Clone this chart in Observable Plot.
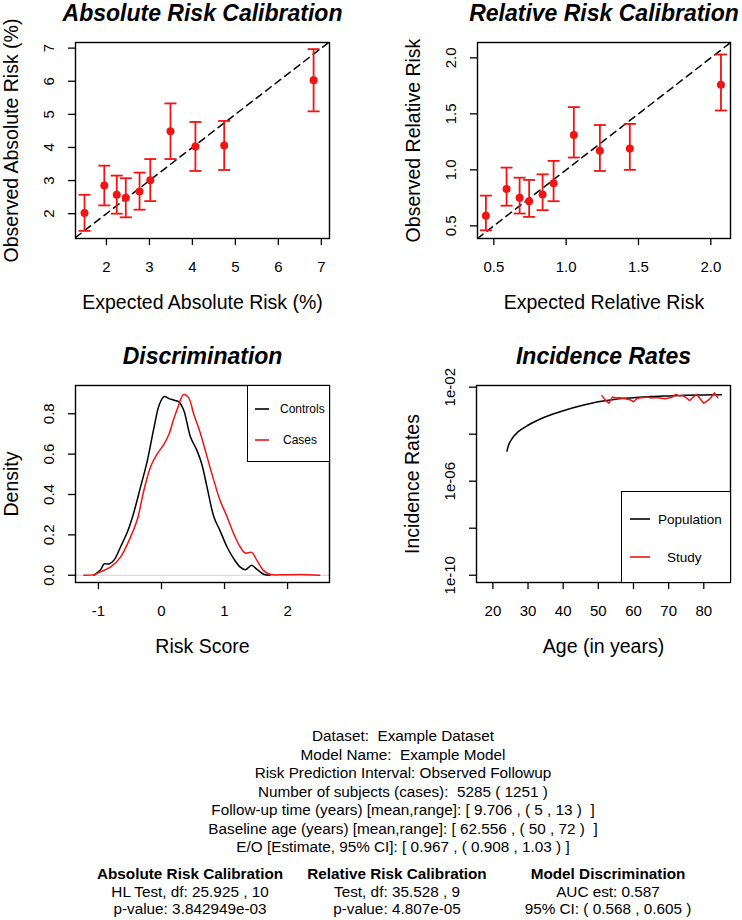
<!DOCTYPE html>
<html><head><meta charset="utf-8">
<script src="https://cdn.jsdelivr.net/npm/d3@7"></script>
<script src="https://cdn.jsdelivr.net/npm/@observablehq/plot@0.6"></script>
<style>
body{margin:0;background:#fff;}
#root{position:relative;width:742px;height:920px;background:#fff;font-family:"Liberation Sans",Arial,Helvetica,sans-serif;color:#000;overflow:hidden}
.panel{position:absolute}
.t{position:absolute;transform:translate(-50%,-50%);white-space:pre;line-height:1;font-size:15.3px}
.b{font-weight:bold}
.leg{position:absolute;background:#fff;border:1.5px solid #000;box-sizing:border-box}
</style></head><body><div id="root"></div>
<script>
const RED = "#f01414";
const FONT = "'Liberation Sans', Arial, Helvetica, sans-serif";

// ---- Absolute risk calibration ----
const absExpected = [1.49, 1.95, 2.24, 2.45, 2.77, 3.02, 3.49, 4.07, 4.74, 6.82];
const absObserved = [2.02, 2.85, 2.57, 2.48, 2.67, 3.01, 4.49, 4.03, 4.06, 6.03];
const absLower    = [1.48, 2.25, 2.00, 1.89, 2.12, 2.38, 3.65, 3.29, 3.32, 5.09];
const absUpper    = [2.57, 3.45, 3.15, 3.07, 3.24, 3.65, 5.33, 4.77, 4.80, 6.97];
const absTicks = [2, 3, 4, 5, 6, 7];
const absTickLabels = ["2", "3", "4", "5", "6", "7"];

// ---- Relative risk calibration ----
const relExpected = [0.445, 0.588, 0.678, 0.744, 0.837, 0.913, 1.053, 1.233, 1.44, 2.07];
const relObserved = [0.59, 0.83, 0.75, 0.72, 0.78, 0.88, 1.31, 1.17, 1.19, 1.76];
const relLower    = [0.46, 0.68, 0.61, 0.58, 0.64, 0.72, 1.11, 0.99, 1.00, 1.53];
const relUpper    = [0.77, 1.02, 0.93, 0.91, 0.96, 1.08, 1.56, 1.40, 1.41, 2.03];
const relTicks = [0.5, 1, 1.5, 2];
const relTickLabels = ["0.5", "1.0", "1.5", "2.0"];

// ---- Discrimination (density of risk score) ----
const controlsScore   = [-1.07, -0.96, -0.91, -0.83, -0.75, -0.65, -0.54, -0.44, -0.33, -0.23, -0.12, -0.04, 0.04, 0.12, 0.19, 0.27, 0.35, 0.46, 0.56, 0.64, 0.72, 0.83, 0.93, 1.04, 1.14, 1.25, 1.33, 1.43, 1.51, 1.62, 1.72];
const controlsDensity = [0.0, 0.03, 0.056, 0.056, 0.076, 0.14, 0.215, 0.31, 0.44, 0.56, 0.73, 0.84, 0.885, 0.875, 0.868, 0.86, 0.82, 0.685, 0.62, 0.55, 0.44, 0.29, 0.22, 0.14, 0.085, 0.04, 0.027, 0.05, 0.03, 0.005, 0.0];
const casesScore   = [-1.23, -1.07, -0.96, -0.81, -0.65, -0.49, -0.38, -0.28, -0.17, -0.07, 0.04, 0.12, 0.19, 0.27, 0.35, 0.43, 0.51, 0.62, 0.72, 0.83, 0.93, 1.04, 1.14, 1.25, 1.33, 1.43, 1.51, 1.62, 1.72, 1.93, 2.19, 2.51];
const casesDensity = [0.0, 0.003, 0.018, 0.04, 0.09, 0.19, 0.28, 0.42, 0.54, 0.60, 0.65, 0.70, 0.77, 0.84, 0.895, 0.88, 0.80, 0.70, 0.59, 0.47, 0.37, 0.29, 0.21, 0.14, 0.11, 0.113, 0.076, 0.023, 0.005, 0.002, 0.004, 0.0];
const discXTicks = [-1, 0, 1, 2];
const discXLabels = ["-1", "0", "1", "2"];
const discYTicks = [0, 0.2, 0.4, 0.6, 0.8];
const discYLabels = ["0.0", "0.2", "0.4", "0.6", "0.8"];

// ---- Incidence rates ----
const popAge  = [24, 24.5, 25, 26, 27, 28, 30, 32, 35, 40, 45, 50, 55, 60, 65, 70, 75, 80, 85];
const popRate = [1.91e-5, 3.55e-5, 5.01e-5, 8.32e-5, 1.20e-4, 1.58e-4, 2.40e-4, 3.47e-4, 5.50e-4, 1.00e-3, 1.62e-3, 2.40e-3, 3.09e-3, 3.55e-3, 3.98e-3, 4.27e-3, 4.57e-3, 4.68e-3, 4.79e-3];
const studyAge  = [51, 52, 53, 54, 55, 56, 57, 58, 59, 60, 61, 62, 63, 64, 65, 66, 67, 68, 69, 70, 71, 72, 73, 74, 75, 76, 77, 78, 79, 80, 81, 82, 83, 84];
const studyRate = [4.37e-3, 2.82e-3, 2.09e-3, 3.80e-3, 3.47e-3, 3.55e-3, 3.39e-3, 3.16e-3, 2.95e-3, 2.40e-3, 3.31e-3, 3.55e-3, 3.63e-3, 3.80e-3, 3.47e-3, 3.63e-3, 3.55e-3, 3.39e-3, 3.24e-3, 3.47e-3, 3.80e-3, 4.90e-3, 4.37e-3, 4.47e-3, 3.55e-3, 2.69e-3, 3.80e-3, 4.90e-3, 3.16e-3, 2.09e-3, 2.63e-3, 3.55e-3, 5.75e-3, 3.55e-3];
const incXTicks = [20, 30, 40, 50, 60, 70, 80];
const incXLabels = ["20", "30", "40", "50", "60", "70", "80"];
const incYTicks = [1e-2, 1e-4, 1e-6, 1e-8, 1e-10];
const incYLabels = ["1e-02", "", "1e-06", "", "1e-10"];

// ---- Summary text ----
const summaryLines = [
  "Dataset:  Example Dataset",
  "Model Name:  Example Model",
  "Risk Prediction Interval: Observed Followup",
  "Number of subjects (cases):  5285 ( 1251 )",
  "Follow-up time (years) [mean,range]: [ 9.706 , ( 5 , 13 )  ]",
  "Baseline age (years) [mean,range]: [ 62.556 , ( 50 , 72 )  ]",
  "E/O [Estimate, 95% CI]: [ 0.967 , ( 0.908 , 1.03 ) ]"
];
const columnHeaders = ["Absolute Risk Calibration", "Relative Risk Calibration", "Model Discrimination"];
const columnLine1 = ["HL Test, df: 25.925 , 10", "Test, df: 35.528 , 9", "AUC est: 0.587"];
const columnLine2 = ["p-value: 3.842949e-03", "p-value: 4.807e-05", "95% CI: ( 0.568 , 0.605 )"];

// ---- build ----
const root = document.getElementById("root");
const capSymbol = {draw(ctx, size) { const r = Math.sqrt(size / Math.PI); ctx.moveTo(-r, 0); ctx.lineTo(r, 0); }};

function panel({left, top, margins, x, y, xTicks, xLabels, yTicks, yLabels, title, xTitle, yTitle, marks}) {
  const svg = Plot.plot({
    width: 371, height: 330, ...margins,
    style: {fontFamily: FONT, fontSize: "15px", background: "transparent", overflow: "visible", color: "#000"},
    x, y,
    marks: [
      ...marks,
      Plot.frame({stroke: "#000", strokeWidth: 1.4}),
      Plot.axisX({ticks: xTicks, tickSize: 7, tickFormat: () => "", strokeWidth: 1.3, label: null}),
      Plot.text(xTicks, {x: d => d, text: (d, i) => xLabels[i], frameAnchor: "bottom", dy: 29, fontSize: 15, lineAnchor: "middle", textAnchor: "middle"}),
      Plot.axisY({ticks: yTicks, tickSize: 7, tickFormat: () => "", strokeWidth: 1.3, label: null}),
      Plot.text(yTicks, {y: d => d, text: (d, i) => yLabels[i], frameAnchor: "left", dx: -26, rotate: -90, fontSize: 15, lineAnchor: "middle", textAnchor: "middle"}),
      Plot.text([xTitle], {text: d => d, frameAnchor: "bottom", dy: 64, fontSize: 19.5, lineAnchor: "middle", textAnchor: "middle"}),
      Plot.text([yTitle], {text: d => d, frameAnchor: "left", dx: -64, rotate: -90, fontSize: 19.5, lineAnchor: "middle", textAnchor: "middle"}),
      Plot.text([title], {text: d => d, frameAnchor: "top", dy: -29, fontSize: 23, fontWeight: "bold", fontStyle: "italic", lineAnchor: "middle", textAnchor: "middle"})
    ]
  });
  svg.classList.add("panel");
  svg.style.left = left + "px";
  svg.style.top = top + "px";
  root.appendChild(svg);
}

function calibMarks(data, diag) {
  return [
    Plot.line(diag, {x: d => d, y: d => d, stroke: "#000", strokeWidth: 1.5, strokeDasharray: "7,5", clip: true}),
    Plot.ruleX(data, {x: "x", y1: "lo", y2: "hi", stroke: RED, strokeWidth: 1.8}),
    Plot.dot(data, {x: "x", y: "lo", symbol: capSymbol, r: 6, stroke: RED, strokeWidth: 1.8, fill: "none"}),
    Plot.dot(data, {x: "x", y: "hi", symbol: capSymbol, r: 6, stroke: RED, strokeWidth: 1.8, fill: "none"}),
    Plot.dot(data, {x: "x", y: "y", r: 4, fill: RED, stroke: "none"})
  ];
}

const absData = absExpected.map((x, i) => ({x, y: absObserved[i], lo: absLower[i], hi: absUpper[i]}));
const relData = relExpected.map((x, i) => ({x, y: relObserved[i], lo: relLower[i], hi: relUpper[i]}));
const absX = [1.28, 7.19], absY = [1.25, 7.17];
const relX = [0.387, 2.136], relY = [0.387, 2.137];

panel({
  left: 0, top: 0,
  margins: {marginLeft: 75, marginRight: 42, marginTop: 42, marginBottom: 92},
  x: {domain: absX}, y: {domain: absY},
  xTicks: absTicks, xLabels: absTickLabels, yTicks: absTicks, yLabels: absTickLabels,
  title: "Absolute Risk Calibration", xTitle: "Expected Absolute Risk (%)", yTitle: "Observed Absolute Risk (%)",
  marks: calibMarks(absData, absX)
});

panel({
  left: 371, top: 0,
  margins: {marginLeft: 106, marginRight: 12, marginTop: 42, marginBottom: 92},
  x: {domain: relX}, y: {domain: relY},
  xTicks: relTicks, xLabels: relTickLabels, yTicks: relTicks, yLabels: relTickLabels,
  title: "Relative Risk Calibration", xTitle: "Expected Relative Risk", yTitle: "Observed Relative Risk",
  marks: calibMarks(relData, relX)
});

const controls = controlsScore.map((x, i) => ({x, y: controlsDensity[i]}));
const cases = casesScore.map((x, i) => ({x, y: casesDensity[i]}));
panel({
  left: 0, top: 330,
  margins: {marginLeft: 75, marginRight: 42, marginTop: 55, marginBottom: 78},
  x: {domain: [-1.364, 2.665]}, y: {domain: [-0.036, 0.94]},
  xTicks: discXTicks, xLabels: discXLabels, yTicks: discYTicks, yLabels: discYLabels,
  title: "Discrimination", xTitle: "Risk Score", yTitle: "Density",
  marks: [
    Plot.ruleY([0], {stroke: "#d0d0d0", strokeWidth: 1}),
    Plot.line(controls, {x: "x", y: "y", stroke: "#000", strokeWidth: 1.5, curve: "catmull-rom"}),
    Plot.line(cases, {x: "x", y: "y", stroke: RED, strokeWidth: 1.5, curve: "catmull-rom"})
  ]
});

const pop = popAge.map((x, i) => ({x, y: popRate[i]}));
const study = studyAge.map((x, i) => ({x, y: studyRate[i]}));
panel({
  left: 371, top: 330,
  margins: {marginLeft: 105, marginRight: 12, marginTop: 55, marginBottom: 78},
  x: {domain: [15.34, 87.6]}, y: {type: "log", domain: [4.9e-11, 1.18e-2]},
  xTicks: incXTicks, xLabels: incXLabels, yTicks: incYTicks, yLabels: incYLabels,
  title: "Incidence Rates", xTitle: "Age (in years)", yTitle: "Incidence Rates",
  marks: [
    Plot.line(pop, {x: "x", y: "y", stroke: "#000", strokeWidth: 1.5, curve: "monotone-x"}),
    Plot.line(study, {x: "x", y: "y", stroke: RED, strokeWidth: 1.5})
  ]
});

// legends
function legend(left, top, w, h, items) {
  const d = document.createElement("div");
  d.className = "leg";
  Object.assign(d.style, {left: left + "px", top: top + "px", width: w + "px", height: h + "px"});
  let s = `<svg width="${w}" height="${h}" style="position:absolute;left:-1.5px;top:-1.5px;overflow:visible;font-family:${FONT}">`;
  for (const it of items) {
    s += `<line x1="${it.lx1}" x2="${it.lx2}" y1="${it.y}" y2="${it.y}" stroke="${it.color}" stroke-width="1.6"/>`;
    s += `<text x="${it.tx}" y="${it.y}" dominant-baseline="central" font-size="${it.fs}">${it.label}</text>`;
  }
  s += "</svg>";
  d.innerHTML = s;
  root.appendChild(d);
}
legend(247, 385, 83, 77, [
  {lx1: 8, lx2: 22, y: 24, color: "#000", tx: 33, label: "Controls", fs: 12},
  {lx1: 8, lx2: 22, y: 55, color: RED, tx: 36, label: "Cases", fs: 12}
]);
legend(621, 491, 110, 92, [
  {lx1: 9, lx2: 29, y: 28, color: "#000", tx: 37, label: "Population", fs: 13.5},
  {lx1: 9, lx2: 29, y: 66, color: RED, tx: 46, label: "Study", fs: 13.5}
]);

// summary text
function addText(txt, x, y, cls) {
  const d = document.createElement("div");
  d.className = "t" + (cls ? " " + cls : "");
  d.style.left = x + "px"; d.style.top = y + "px";
  d.textContent = txt;
  root.appendChild(d);
}
summaryLines.forEach((s, i) => addText(s, 403, 736 + i * 18.5));
const colX = [190, 397, 608];
columnHeaders.forEach((s, i) => addText(s, colX[i], 874, "b"));
columnLine1.forEach((s, i) => addText(s, colX[i], 892));
columnLine2.forEach((s, i) => addText(s, colX[i], 909));
</script></body></html>
